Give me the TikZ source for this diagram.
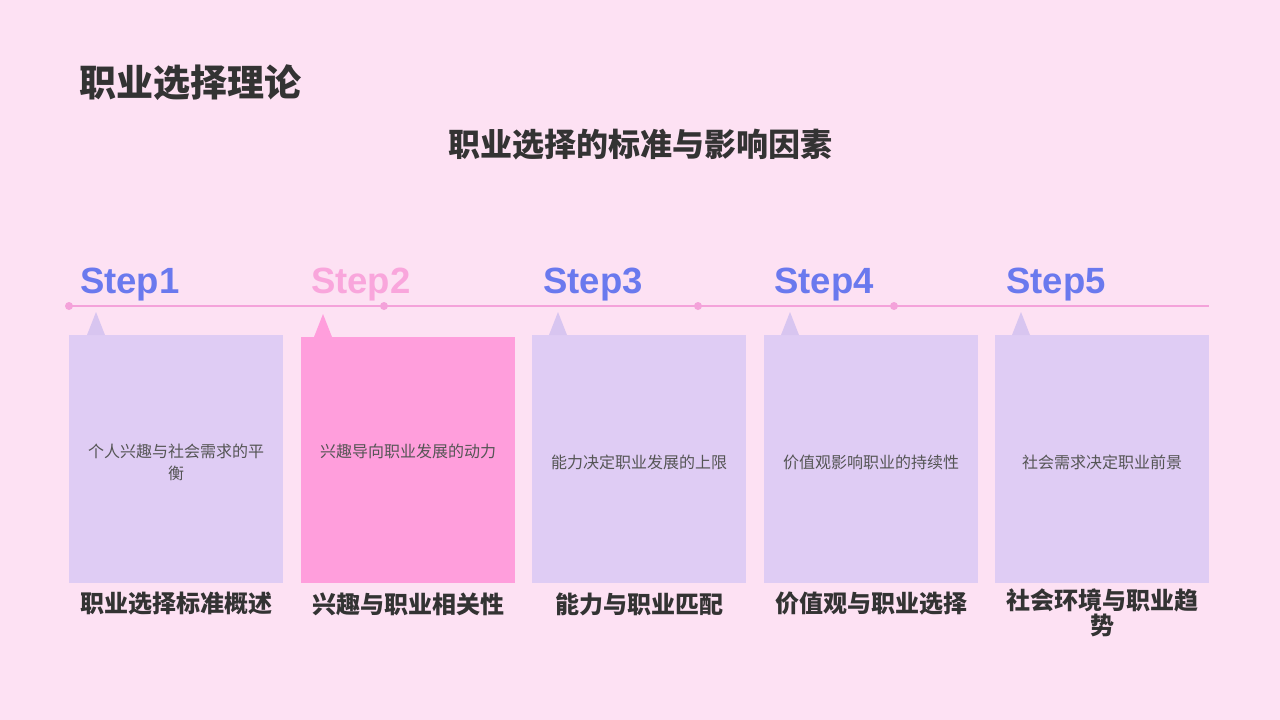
\documentclass[tikz,border=0pt]{standalone}
\usepackage{fontspec}
\setmainfont{Liberation Sans}
\newfontfamily\cjk{Noto Sans CJK SC}
\definecolor{bg}{HTML}{FDE1F3}
\definecolor{lav}{HTML}{DFCCF4}
\definecolor{lavtri}{HTML}{D8C5F0}
\definecolor{pinkbox}{HTML}{FF9EDC}
\definecolor{linec}{HTML}{F4A2DA}
\definecolor{stepblue}{HTML}{6A79EE}
\definecolor{steppink}{HTML}{F9A6DC}
\definecolor{dark}{HTML}{333333}
\definecolor{bodytxt}{HTML}{555555}
\tikzset{
  cardbox/.style={fill=lav, draw=none},
  steplabel/.style={anchor=base west, font=\bfseries\fontsize{36.5}{40}\selectfont, inner sep=0pt},
  cardtext/.style={text=bodytxt, font=\cjk\fontsize{16}{22}\selectfont, align=center, inner sep=0pt},
  cardtitle/.style={text=dark, font=\cjk\bfseries\fontsize{24}{25}\selectfont, align=center, inner sep=0pt},
  tldot/.style={circle, fill=linec, inner sep=0pt, minimum size=8pt},
}
\begin{document}
\begin{tikzpicture}[x=1pt,y=-1pt]
\fill[bg] (0,0) rectangle (1280,720);
\useasboundingbox (0,0) rectangle (1280,720);
% titles
\node[anchor=west, text=dark, font=\cjk\bfseries\fontsize{37}{40}\selectfont, inner sep=0pt] (title) at (79,83) {职业选择理论};
\node[text=dark, font=\cjk\bfseries\fontsize{32}{34}\selectfont, inner sep=0pt] (subtitle) at (640,145) {职业选择的标准与影响因素};
% timeline
\coordinate (tlstart) at (69,306);
\coordinate (tlend) at (1209,306);
\draw[linec, line width=2.5pt] (tlstart) -- (tlend);
\node[tldot] (d1) at (69,306) {};
\node[tldot] (d2) at (384,306) {};
\node[tldot] (d3) at (698,306) {};
\node[tldot] (d4) at (894,306) {};
% step labels
\node[steplabel, text=stepblue] (s1) at (80,293) {Step1};
\node[steplabel, text=steppink] (s2) at (311,293) {Step2};
\node[steplabel, text=stepblue] (s3) at (543,293) {Step3};
\node[steplabel, text=stepblue] (s4) at (774,293) {Step4};
\node[steplabel, text=stepblue] (s5) at (1006,293) {Step5};
% boxes
\fill[cardbox] (69,335) rectangle (283,583);
\fill[pinkbox] (301,337) rectangle (515,583);
\fill[cardbox] (532,335) rectangle (746,583);
\fill[cardbox] (764,335) rectangle (978,583);
\fill[cardbox] (995,335) rectangle (1209,583);
% pointers
\fill[lavtri] (87,335) -- (96,312) -- (105,335) -- cycle;
\fill[pinkbox] (314,337) -- (323,314) -- (332,337) -- cycle;
\fill[lavtri] (549,335) -- (558,312) -- (567,335) -- cycle;
\fill[lavtri] (781,335) -- (790,312) -- (799,335) -- cycle;
\fill[lavtri] (1012,335) -- (1021,312) -- (1030,335) -- cycle;
% card texts
\node[cardtext] (t1) at (176,462) {个人兴趣与社会需求的平\\衡};
\node[cardtext] (t2) at (408,451) {兴趣导向职业发展的动力};
\node[cardtext] (t3) at (639,462) {能力决定职业发展的上限};
\node[cardtext] (t4) at (871,462) {价值观影响职业的持续性};
\node[cardtext] (t5) at (1102,462) {社会需求决定职业前景};
% card titles
\node[cardtitle] (c1) at (176,604) {职业选择标准概述};
\node[cardtitle] (c2) at (408,604) {兴趣与职业相关性};
\node[cardtitle] (c3) at (639,604) {能力与职业匹配};
\node[cardtitle] (c4) at (871,604) {价值观与职业选择};
\node[cardtitle] (c5) at (1102,613) {社会环境与职业趋\\势};
\end{tikzpicture}
\end{document}
